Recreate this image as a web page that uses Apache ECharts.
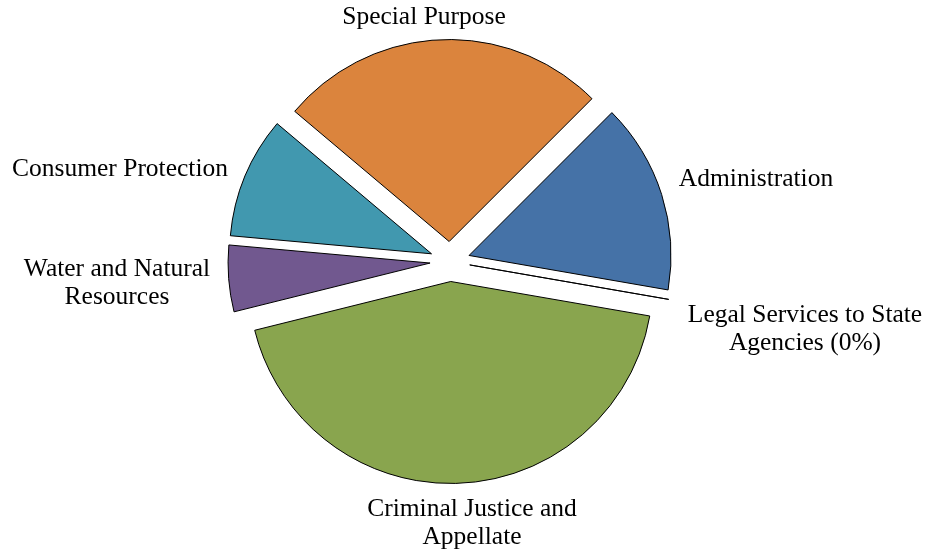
<!DOCTYPE html>
<html>
<head>
<meta charset="utf-8">
<title>Pie</title>
<script src="https://cdn.jsdelivr.net/npm/echarts@6/dist/echarts.min.js"></script>
<style>
    html, body {margin: 0; padding: 0; background: #fff;}
    #pieChart {width: 928px; height: 559px;}
</style>
</head>
<body>
<div id="pieChart"></div>
<script>
// categories, clockwise from the top right
var categories = ['Administration', 'Legal Services to State Agencies', 'Criminal Justice and Appellate',
    'Water and Natural Resources', 'Consumer Protection', 'Special Purpose'];
// share of the budget (%)
var values = [15.2, 0, 43.3, 5.3, 9.7, 26.3];
// text shown next to each slice
var labelTexts = ['Administration', 'Legal Services to State\nAgencies (0%)', 'Criminal Justice and\nAppellate',
    'Water and Natural\nResources', 'Consumer Protection', 'Special Purpose'];
var colors = ['#4572A7', '#000000', '#89A54E', '#71588F', '#4198AF', '#DB843D'];

// where each label sits (center of the text block)
var labelPos = [[756, 179], [805, 329], [472, 523], [117, 283], [120, 169], [424, 17]];

onReady(function () {
    showPie();
});

function onReady(fn) {
    if (document.readyState !== 'loading') fn();
    else document.addEventListener('DOMContentLoaded', fn);
}

function showPie() {
    var myChart = echarts.init(document.getElementById('pieChart'));
    var data = [];
    for (var i = 0; i < categories.length; i++) {
        data.push({
            name: categories[i],
            value: values[i],
            selected: true,
            itemStyle: {color: colors[i]}
        });
    }
    // labels as plain text blocks, like the excel chart
    var labels = [];
    for (var j = 0; j < labelTexts.length; j++) {
        labels.push({
            type: 'text',
            x: labelPos[j][0],
            y: labelPos[j][1],
            style: {
                text: labelTexts[j],
                fontFamily: 'Liberation Serif',
                fontSize: 25.5,
                lineHeight: 28,
                fill: '#000',
                align: 'center',
                verticalAlign: 'middle'
            }
        });
    }
    var option = {
        backgroundColor: '#fff',
        animation: false,
        graphic: labels,
        series: [
            {
                type: 'pie',
                center: [450, 261.5],
                radius: 202,
                startAngle: 45,
                clockwise: true,
                selectedMode: 'multiple',
                selectedOffset: 20,
                itemStyle: {borderColor: '#000', borderWidth: 1},
                emphasis: {disabled: true},
                label: {show: false},
                labelLine: {show: false},
                data: data
            }
        ]
    };
    myChart.setOption(option);
}
</script>
</body>
</html>
